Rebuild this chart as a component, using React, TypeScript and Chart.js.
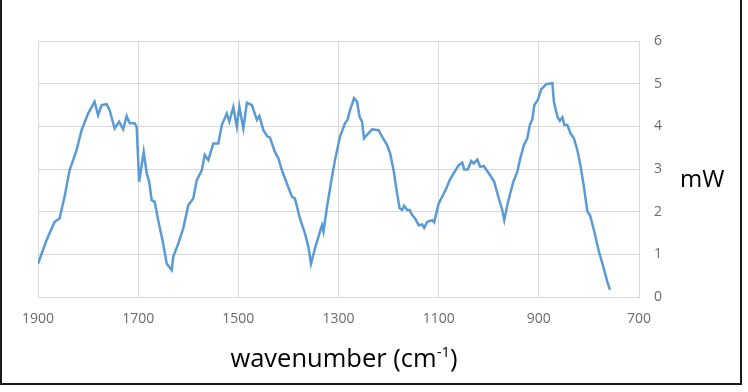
import React, { useEffect, useRef } from "react";
import { Chart, registerables } from "chart.js";

Chart.register(...registerables);

const wavenumbers = [
  1900, 1883, 1867, 1857, 1847, 1837, 1823, 1813, 1800, 1787, 1780, 1773, 1763, 1757, 1747, 1738, 1730, 1723, 1717, 1707,
  1703, 1698, 1689, 1683, 1678, 1673, 1667, 1660, 1650, 1643, 1633, 1630, 1620, 1610, 1600, 1590, 1583, 1573, 1567, 1560,
  1550, 1540, 1533, 1523, 1518, 1510, 1503, 1498, 1490, 1483, 1473, 1463, 1458, 1450, 1442, 1437, 1427, 1420, 1413, 1403,
  1393, 1387, 1377, 1367, 1360, 1355, 1347, 1337, 1333, 1330, 1323, 1313, 1307, 1297, 1287, 1282, 1277, 1269, 1263, 1258,
  1253, 1249, 1243, 1233, 1220, 1213, 1203, 1197, 1190, 1183, 1178, 1173, 1169, 1163, 1158, 1153, 1147, 1140, 1133, 1129,
  1123, 1113, 1109, 1100, 1093, 1085, 1078, 1070, 1060, 1053, 1049, 1042, 1035, 1030, 1023, 1017, 1010, 1000, 989, 980,
  973, 969, 963, 957, 951, 943, 937, 930, 923, 918, 913, 909, 902, 895, 885, 873, 870, 863, 858, 853,
  849, 843, 837, 830, 823, 817, 810, 803, 798, 790, 780, 773, 763, 758,
];

const powerMW = [
  0.78, 1.33, 1.76, 1.84, 2.35, 2.97, 3.44, 3.91, 4.30, 4.58, 4.26, 4.50, 4.52, 4.38, 3.95, 4.11, 3.93, 4.24, 4.07, 4.07,
  3.99, 2.70, 3.40, 2.90, 2.70, 2.27, 2.23, 1.80, 1.25, 0.78, 0.63, 0.94, 1.25, 1.61, 2.15, 2.31, 2.74, 2.97, 3.33, 3.21,
  3.60, 3.60, 4.03, 4.30, 4.11, 4.45, 3.99, 4.46, 3.95, 4.55, 4.50, 4.15, 4.24, 3.91, 3.76, 3.74, 3.40, 3.25, 2.97, 2.66,
  2.35, 2.31, 1.84, 1.49, 1.17, 0.78, 1.14, 1.53, 1.68, 1.53, 2.11, 2.82, 3.21, 3.76, 4.07, 4.15, 4.38, 4.66, 4.58, 4.23,
  4.11, 3.72, 3.80, 3.93, 3.91, 3.76, 3.56, 3.37, 2.97, 2.43, 2.08, 2.04, 2.14, 2.04, 2.04, 1.92, 1.84, 1.68, 1.70, 1.62,
  1.76, 1.80, 1.75, 2.19, 2.35, 2.54, 2.74, 2.90, 3.09, 3.15, 2.99, 2.99, 3.19, 3.13, 3.22, 3.05, 3.07, 2.90, 2.70, 2.31,
  2.04, 1.80, 2.15, 2.43, 2.70, 2.93, 3.25, 3.56, 3.72, 4.03, 4.16, 4.50, 4.62, 4.87, 4.99, 5.01, 4.58, 4.23, 4.13, 4.21,
  4.03, 4.03, 3.84, 3.72, 3.44, 3.09, 2.58, 2.00, 1.92, 1.57, 1.06, 0.78, 0.35, 0.17,
];

const xTickValues = [1900, 1700, 1500, 1300, 1100, 900, 700];
const yTickValues = [0, 1, 2, 3, 4, 5, 6];

const xTitle = "wavenumber (cm";
const xTitleSup = "-1";
const yTitle = "mW";

const tickFont = { family: "'Open Sans', sans-serif", size: 14 };
const titleFont = "'Open Sans', sans-serif";

export default function App() {
  const canvasRef = useRef<HTMLCanvasElement | null>(null);

  useEffect(() => {
    const canvas = canvasRef.current;
    if (!canvas) return;
    const chart = new Chart(canvas, {
      type: "line",
      data: {
        datasets: [
          {
            data: wavenumbers.map((x, i) => ({ x, y: powerMW[i] })),
            borderColor: "#5B9BD5",
            borderWidth: 2.5,
            pointRadius: 0,
            tension: 0,
            fill: false,
          },
        ],
      },
      options: {
        animation: false,
        responsive: false,
        maintainAspectRatio: false,
        layout: { padding: { left: 38, top: 41, right: 0, bottom: 0 } },
        plugins: { legend: { display: false }, tooltip: { enabled: false } },
        scales: {
          x: {
            type: "linear",
            reverse: true,
            min: 700,
            max: 1900,
            afterBuildTicks: (s: any) => {
              s.ticks = xTickValues.map((v) => ({ value: v }));
            },
            afterFit: (s: any) => {
              s.height = 95;
            },
            grid: { color: "#d9d9d9", drawTicks: false, lineWidth: 1 },
            border: { color: "#d9d9d9" },
            ticks: {
              padding: 14,
              color: "#6a6a6a",
              font: tickFont,
              maxRotation: 0,
              autoSkip: false,
              callback: (v: any) => String(v),
            },
          },
          y: {
            position: "right",
            min: 0,
            max: 6,
            afterBuildTicks: (s: any) => {
              s.ticks = yTickValues.map((v) => ({ value: v }));
            },
            afterFit: (s: any) => {
              s.width = 109;
            },
            grid: { color: "#d9d9d9", drawTicks: false, lineWidth: 1 },
            border: { color: "#d9d9d9" },
            ticks: {
              padding: 15,
              color: "#6a6a6a",
              font: tickFont,
              autoSkip: false,
              callback: (v: any) => String(v),
            },
          },
        },
      },
    });
    return () => chart.destroy();
  }, []);

  return (
    <div style={{ position: "absolute", left: 0, top: 0, width: 748, height: 392, background: "#fff", overflow: "hidden" }}>
      <canvas ref={canvasRef} width={748} height={392} style={{ position: "absolute", left: 0, top: 0, width: 748, height: 392 }} />
      <div
        style={{
          position: "absolute",
          left: 0,
          top: -2,
          width: 742,
          height: 387,
          border: "2px solid #1a1a1a",
          boxSizing: "border-box",
          pointerEvents: "none",
        }}
      />
      <div
        style={{
          position: "absolute",
          left: 344,
          top: 345,
          transform: "translateX(-50%)",
          whiteSpace: "nowrap",
          fontFamily: titleFont,
          fontSize: 25.5,
          lineHeight: "25px",
          color: "#000",
        }}
      >
        {xTitle}
        <sup style={{ fontSize: 15, lineHeight: 0, verticalAlign: "10px" }}>{xTitleSup}</sup>)
      </div>
      <div
        style={{
          position: "absolute",
          left: 680,
          top: 166,
          whiteSpace: "nowrap",
          fontFamily: titleFont,
          fontSize: 24,
          lineHeight: "24px",
          color: "#000",
        }}
      >
        {yTitle}
      </div>
    </div>
  );
}
